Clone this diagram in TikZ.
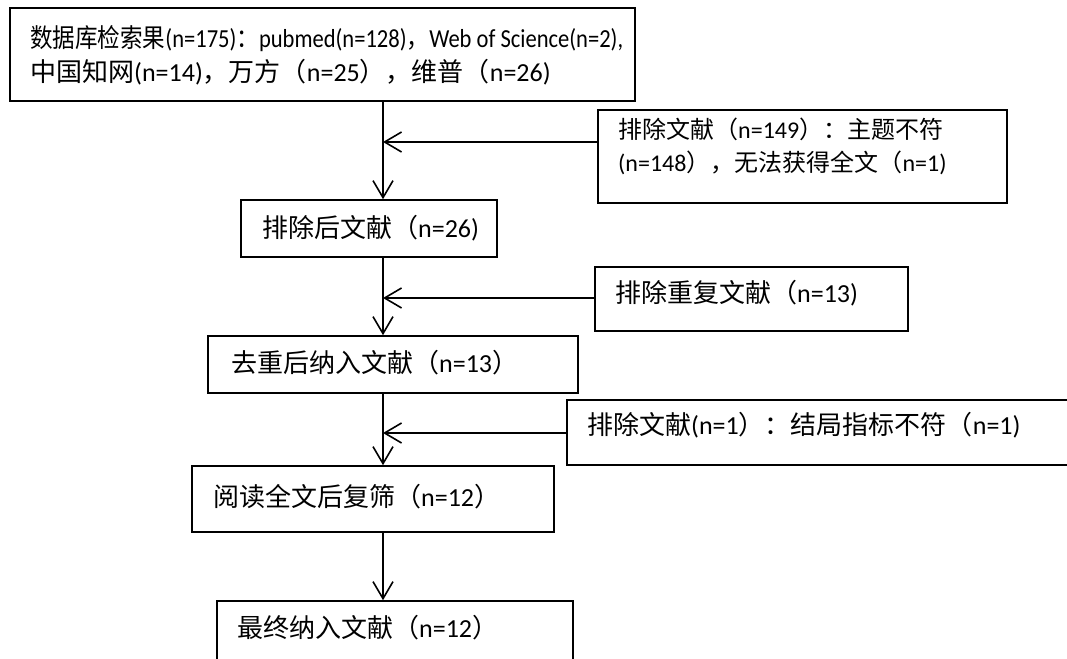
\documentclass[tikz,border=0pt]{standalone}
\usepackage{fontspec}
\usepackage{graphicx}
\setmainfont{Carlito}
\newfontfamily\cjk{Noto Sans CJK SC}
\newcommand{\zh}[1]{{\cjk #1}}
\usetikzlibrary{arrows.meta}
\tikzset{
  box/.style={draw, line width=1.6pt, inner sep=0pt, rectangle},
  txt/.style={anchor=base west, inner sep=0pt, font=\fontsize{26}{33}\selectfont},
  txtmid/.style={txt, font=\fontsize{24}{33}\selectfont},
  arr/.style={line width=1.6pt, -{Straight Barb[length=17pt,width=20pt,line width=1.6pt]}},
}
\begin{document}
\begin{tikzpicture}[x=1pt,y=-1pt]
\useasboundingbox (0,0) rectangle (1067,658);
% boxes
\node[box, minimum width=625pt, minimum height=93pt] (top) at (322.5,54.5) {};
\node[box, minimum width=409pt, minimum height=93pt] (r1) at (802.5,156.5) {};
\node[box, minimum width=256pt, minimum height=57pt] (b2) at (369,228.5) {};
\node[box, minimum width=313pt, minimum height=64pt] (r2) at (751.5,299) {};
\node[box, minimum width=370pt, minimum height=57pt] (b3) at (393,364.5) {};
\node[box, minimum width=513pt, minimum height=65pt] (r3) at (823.5,432.5) {};
\node[box, minimum width=362pt, minimum height=66pt] (b4) at (373,499) {};
\node[box, minimum width=356pt, minimum height=79pt] (b5) at (395,640.5) {};
% texts
\node[txt] (t1a) at (30,48) {\resizebox{593pt}{\height}{\zh{数据库检索果}(n=175)\zh{：}pubmed(n=128)\zh{，}Web of Science(n=2),}};
\node[txt] (t1b) at (30,82) {\zh{中国知网}(n=14)\zh{，万方（}n=25\zh{），维普（}n=26)};
\node[txtmid] (tr1a) at (618,138) {\zh{排除文献（}n=149\zh{）：主题不符}};
\node[txtmid] (tr1b) at (618,171) {(n=148\zh{），无法获得全文（}n=1)};
\node[txt] (t2) at (262,237) {\zh{排除后文献（}n=26)};
\node[txt] (tr2) at (615,302) {\zh{排除重复文献（}n=13)};
\node[txt] (t3) at (231,372) {\zh{去重后纳入文献（}n=13\zh{）}};
\node[txt] (tr3) at (587,434) {\zh{排除文献}(n=1\zh{）：结局指标不符（}n=1)};
\node[txt] (t4) at (213,506) {\zh{阅读全文后复筛（}n=12\zh{）}};
\node[txt] (t5) at (237,637) {\zh{最终纳入文献（}n=12\zh{）}};
% junction coordinates
\coordinate (v) at (383,0);
\coordinate (j1) at (383,142);
\coordinate (j2) at (383,298);
\coordinate (j3) at (383,433);
% vertical arrows
\draw[arr] (top.south -| v) -- (b2.north -| v);
\draw[arr] (b2.south -| v) -- (b3.north -| v);
\draw[arr] (b3.south -| v) -- (b4.north -| v);
\draw[arr] (b4.south -| v) -- (b5.north -| v);
% horizontal arrows
\draw[arr] (r1.west |- j1) -- (j1);
\draw[arr] (r2.west |- j2) -- (j2);
\draw[arr] (r3.west |- j3) -- (j3);
\end{tikzpicture}
\end{document}
